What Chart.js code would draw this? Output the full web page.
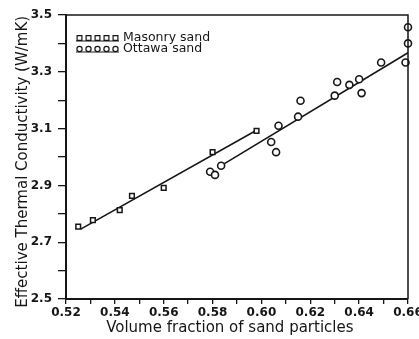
<!DOCTYPE html>
<html><head><meta charset="utf-8">
<script src="https://cdn.jsdelivr.net/npm/chart.js@4/dist/chart.umd.min.js"></script>
<style>html,body{margin:0;padding:0;background:#fff}#wrap{width:419px;height:339px}</style>
</head><body><div id="wrap"><canvas id="c" width="419" height="339"></canvas></div>
<script>
const seriesNames = ['Masonry sand', 'Ottawa sand'];
const masonryX = [0.525, 0.531, 0.542, 0.547, 0.560, 0.580, 0.598];
const masonryY = [2.755, 2.778, 2.813, 2.863, 2.891, 3.017, 3.092];
const ottawaX = [0.579, 0.581, 0.5835, 0.604, 0.606, 0.607, 0.615, 0.616, 0.630, 0.631, 0.636, 0.640, 0.641, 0.649, 0.659, 0.660, 0.660];
const ottawaY = [2.948, 2.937, 2.969, 3.053, 3.017, 3.110, 3.142, 3.198, 3.216, 3.264, 3.254, 3.274, 3.225, 3.333, 3.333, 3.400, 3.457];
const masonryFitX = [0.526, 0.598];
const masonryFitY = [2.746, 3.094];
const ottawaFitX = [0.583, 0.660];
const ottawaFitY = [2.967, 3.367];
const xTickLabels = ['0.52', '0.54', '0.56', '0.58', '0.60', '0.62', '0.64', '0.66'];
const yTickLabels = ['2.5', '2.7', '2.9', '3.1', '3.3', '3.5'];
const xTitle = 'Volume fraction of sand particles\u00a0\u00a0\u00a0';
const yTitle = 'Effective Thermal Conductivity (W/mK)\u00a0\u00a0';

const zip = (xs, ys) => xs.map((x, i) => ({x: x, y: ys[i]}));
const INK = '#161616';
const FONT = 'DejaVu Sans';

const framePlugin = {
  id: 'frame',
  afterDatasetsDraw(chart) {
    const ctx = chart.ctx, a = chart.chartArea;
    ctx.save();
    ctx.strokeStyle = INK;
    ctx.lineWidth = 1.5;
    ctx.beginPath();
    ctx.moveTo(a.left, a.top);
    ctx.lineTo(a.right, a.top);
    ctx.lineTo(a.right, a.bottom);
    ctx.stroke();
    ctx.restore();
  }
};

const legendPlugin = {
  id: 'inlineLegend',
  afterDraw(chart) {
    const ctx = chart.ctx, a = chart.chartArea;
    const styles = ['rect', 'circle'];
    ctx.save();
    ctx.strokeStyle = INK;
    ctx.fillStyle = INK;
    seriesNames.forEach((name, i) => {
      const y = a.top + 23 + i * 11;
      ctx.lineWidth = 1.2;
      for (let k = 0; k < 5; k++) {
        const x = a.left + 13.5 + k * 9;
        ctx.beginPath();
        if (styles[i] === 'rect') ctx.rect(x - 2.4, y - 2.4, 4.8, 4.8);
        else ctx.arc(x, y, 2.6, 0, Math.PI * 2);
        ctx.stroke();
      }
      ctx.beginPath();
      ctx.moveTo(a.left + 10, y + 3);
      ctx.lineTo(a.left + 53, y + 3);
      ctx.stroke();
      ctx.font = '12.5px "' + FONT + '"';
      ctx.textBaseline = 'middle';
      ctx.textAlign = 'left';
      ctx.fillText(name, a.left + 57, y);
    });
    ctx.restore();
  }
};

new Chart(document.getElementById('c'), {
  type: 'scatter',
  data: {
    datasets: [
      {label: seriesNames[0], data: zip(masonryX, masonryY), pointStyle: 'rect', pointRadius: 3.3,
       borderColor: INK, backgroundColor: '#fff', borderWidth: 1.5, showLine: false, order: 0, clip: false},
      {label: seriesNames[1], data: zip(ottawaX, ottawaY), pointStyle: 'circle', pointRadius: 3.5,
       borderColor: INK, backgroundColor: '#fff', borderWidth: 1.6, showLine: false, order: 0, clip: false},
      {label: 'fit1', data: zip(masonryFitX, masonryFitY), showLine: true, pointRadius: 0,
       borderColor: INK, borderWidth: 1.6, order: 1},
      {label: 'fit2', data: zip(ottawaFitX, ottawaFitY), showLine: true, pointRadius: 0,
       borderColor: INK, borderWidth: 1.6, order: 1}
    ]
  },
  options: {
    responsive: false,
    animation: false,
    devicePixelRatio: 1,
    layout: {padding: {top: 15, right: 11, left: 0, bottom: 0}},
    plugins: {legend: {display: false}, tooltip: {enabled: false}},
    scales: {
      x: {
        type: 'linear', min: 0.52, max: 0.66,
        ticks: {
          stepSize: 0.01, autoSkip: false, maxRotation: 0, color: INK, padding: 2,
          font: {family: FONT, size: 12, weight: 'bold'},
          callback: (v) => { const s = Number(v).toFixed(2); return xTickLabels.includes(s) ? s : ''; }
        },
        grid: {drawOnChartArea: false, drawTicks: true, tickLength: 5, color: INK, lineWidth: 1.3},
        border: {color: INK, width: 2},
        title: {display: true, text: xTitle, color: INK, font: {family: FONT, size: 15}, padding: {top: 2, bottom: 2}},
        afterFit(s) { s.height = 40; s.paddingLeft = 0; s.paddingRight = 0; }
      },
      y: {
        type: 'linear', min: 2.5, max: 3.5,
        ticks: {
          stepSize: 0.1, autoSkip: false, color: INK, padding: 6,
          font: {family: FONT, size: 12, weight: 'bold'},
          callback: (v) => { const s = Number(v).toFixed(1); return yTickLabels.includes(s) ? s : ''; }
        },
        grid: {drawOnChartArea: false, drawTicks: true, tickLength: 8, color: INK, lineWidth: 1.3},
        border: {color: INK, width: 2},
        title: {display: true, text: yTitle, color: INK, font: {family: FONT, size: 15}, padding: {top: 14, bottom: 2}},
        afterFit(s) { s.width = 66; s.paddingTop = 0; s.paddingBottom = 0; }
      }
    }
  },
  plugins: [framePlugin, legendPlugin]
});
</script>
</body></html>
